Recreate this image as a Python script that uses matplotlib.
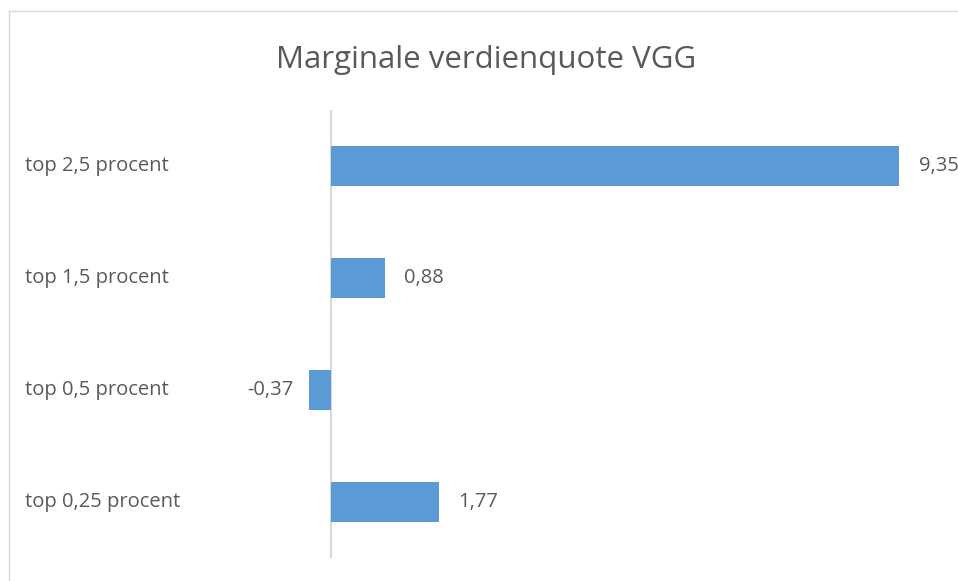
import matplotlib
matplotlib.use("Agg")
import matplotlib.pyplot as plt
import matplotlib.transforms as mtransforms
from matplotlib.lines import Line2D

# data
categories = ["top 2,5 procent", "top 1,5 procent", "top 0,5 procent", "top 0,25 procent"]
values = [9.35, 0.88, -0.37, 1.77]
title = "Marginale verdienquote VGG"

plt.rcParams['font.family'] = ['Open Sans', 'DejaVu Sans']
text_col = '#595959'
bar_col = '#5B9BD5'
W, H = 958, 581

fig = plt.figure(figsize=(W / 100, H / 100), dpi=100)
# axes placed in pixel terms: x 200..958, y 110..558
ax = fig.add_axes([200 / W, (H - 558) / H, (958 - 200) / W, 448 / H])

pos = list(range(len(categories)))
ax.barh(pos, values, height=0.357, color=bar_col, zorder=2)
ax.set_ylim(3.5, -0.5)
ax.set_xlim(-(331 - 200) / 60.8, (958 - 331) / 60.8)
ax.axvline(0, color='#D9D9D9', linewidth=1.5, zorder=1)
for s in ax.spines.values():
    s.set_visible(False)
ax.set_xticks([])
ax.set_yticks([])

# category labels, left aligned like the original
trans = mtransforms.blended_transform_factory(fig.transFigure, ax.transData)
for p, c in zip(pos, categories):
    ax.text(25 / W, p, c, transform=trans, ha='left', va='center',
            fontsize=14.5, color=text_col, clip_on=False)

# value labels
for p, v in zip(pos, values):
    lab = f"{v:.2f}".replace('.', ',')
    if v >= 0:
        ax.annotate(lab, (v, p), xytext=(14, 0), textcoords='offset points',
                    ha='left', va='center', fontsize=14.5, color=text_col,
                    annotation_clip=False)
    else:
        ax.annotate(lab, (v, p), xytext=(-11, 0), textcoords='offset points',
                    ha='right', va='center', fontsize=14.5, color=text_col,
                    annotation_clip=False)

fig.text(486 / W, 1 - 60 / H, title, ha='center', va='center',
         fontsize=22.5, color=text_col)

# chart border (only top and left visible in the crop)
fig.add_artist(Line2D([8.5 / W, 8.5 / W], [0, 1 - 11 / H], transform=fig.transFigure,
                      color='#D9D9D9', linewidth=1))
fig.add_artist(Line2D([8.5 / W, 1], [1 - 11 / H, 1 - 11 / H], transform=fig.transFigure,
                      color='#D9D9D9', linewidth=1))

fig.savefig("out.png", dpi=100)
